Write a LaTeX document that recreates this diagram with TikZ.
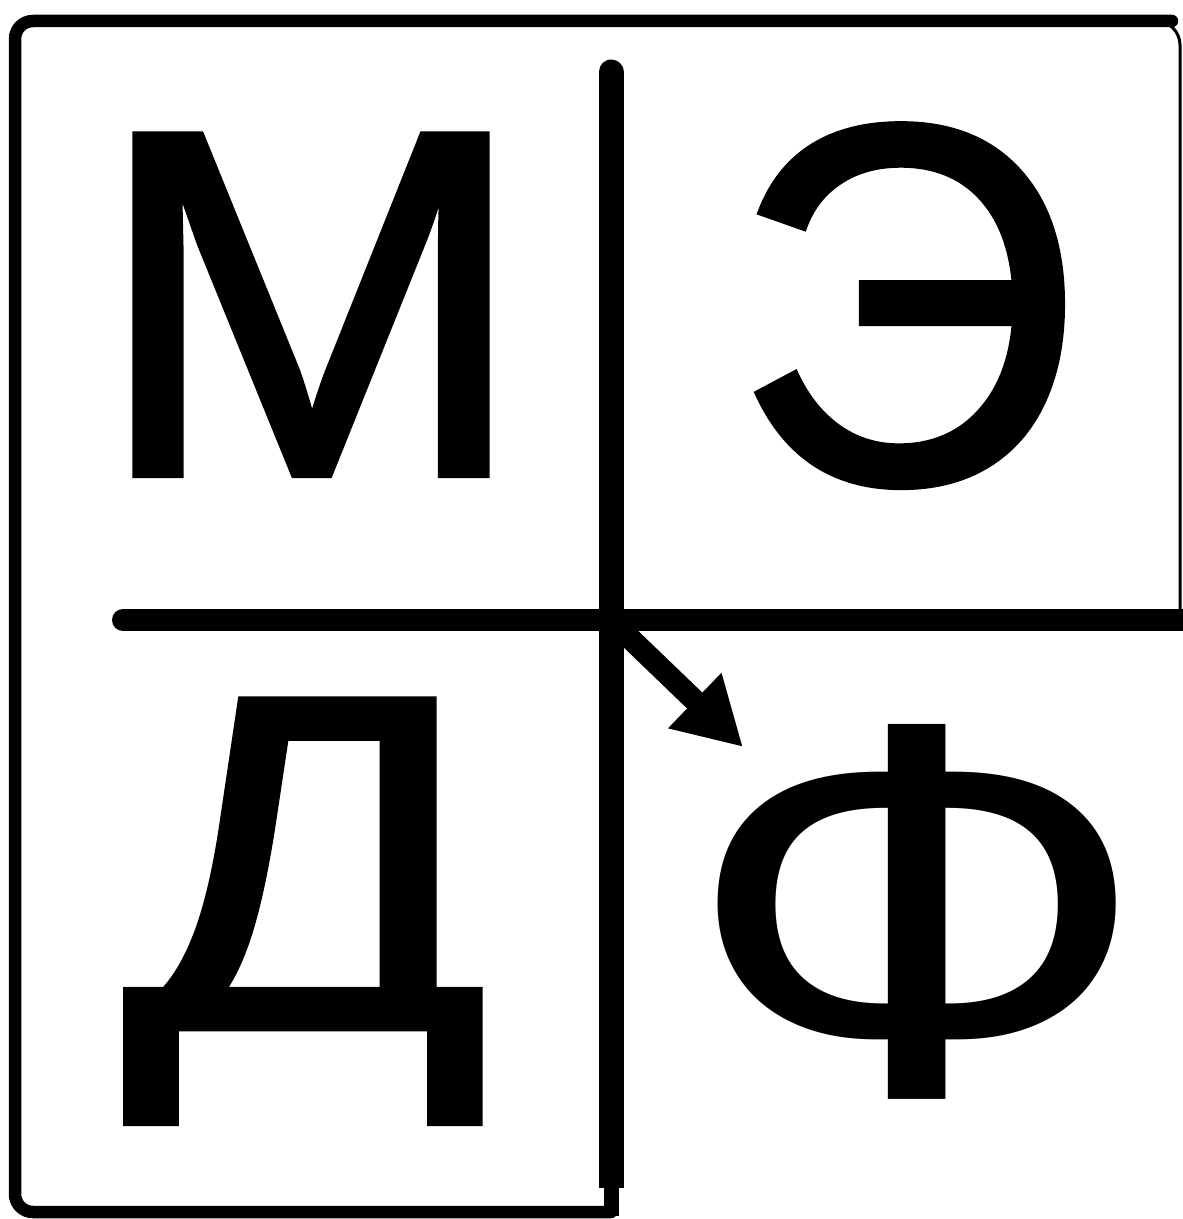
\documentclass[tikz,border=0pt]{standalone}
\usepackage{graphicx}
\usepackage{fontspec}
\setmainfont{Liberation Sans}
\newfontfamily\letterfont{Liberation Sans}[FakeBold=1.5]
\newfontfamily\plainletterfont{Liberation Sans}
\usetikzlibrary{arrows.meta}
\begin{document}
\begin{tikzpicture}[x=0.5pt,y=-0.5pt,
  letter/.style={inner sep=0pt, outer sep=0pt, anchor=north, font=\letterfont\fontsize{243pt}{250pt}\selectfont},
  plainletter/.style={letter, font=\plainletterfont\fontsize{243pt}{250pt}\selectfont},
  heavy/.style={line width=11pt},
  rim/.style={line width=6.25pt, rounded corners=9pt, line join=round}]
\useasboundingbox (0,0) rectangle (1182,1219);
% letters
\node[letter] (M) at (311,135) {\scalebox{1.075}[1.015]{М}};
\node[letter] (E) at (906,125) {\scalebox{0.985}[1.05]{Э}};
\node[letter] (D) at (306,700) {\scalebox{1.11}[0.98]{Д}};
\node[plainletter] (F) at (917,724) {\scalebox{1.27}[1.105]{Ф}};
% frame coordinates
\coordinate (bl) at (15,1212);
\coordinate (tl) at (15,21);
\coordinate (tr) at (1180,21);
\coordinate (trs) at (1150,21);
\coordinate (rb) at (1180,622);
\coordinate (bm) at (611,1212);
\coordinate (tm) at (1172,21);
% cross lines
\coordinate (hl) at (123,620);
\coordinate (hr) at (1190,620);
\coordinate (vt) at (611,72);
\coordinate (vm) at (611,1188);
\coordinate (vb) at (611,1216);
\coordinate (c) at (611,620);
\coordinate (tip) at (743,747);
% frame
\draw[rim, line cap=round] (bm) -- (bl) -- (tl) -- (tm);
\draw[line width=1.5pt, rounded corners=12pt] (trs) -- (tr) -- (rb);
% horizontal line
\draw[heavy, line cap=round] (hl) -- (hr);
% vertical line
\draw[line width=12.5pt, line cap=round] (vt) -- (c);
\draw[line width=12.5pt] (c) -- (vm);
\draw[line width=7.5pt] (vm) -- (vb);
% arrow
\draw[line width=11pt, -{Triangle[length=33.5pt,width=36pt]}] (c) -- (tip);
\end{tikzpicture}
\end{document}
